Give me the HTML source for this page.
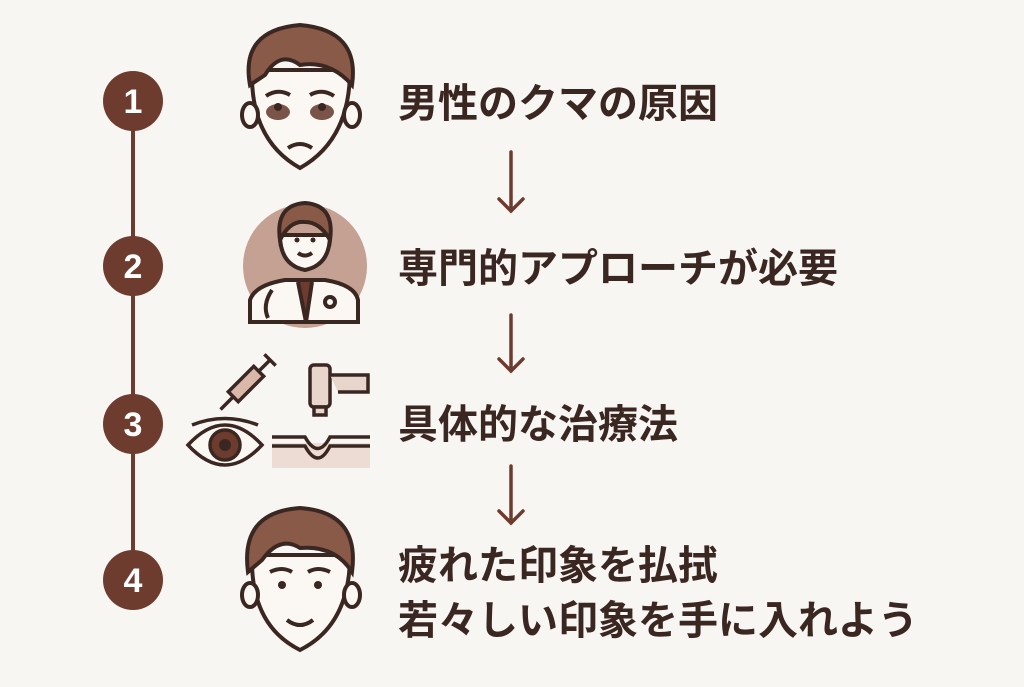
<!DOCTYPE html>
<html><head><meta charset="utf-8"><style>
body{margin:0;width:1024px;height:687px;background:#f8f6f3;position:relative;overflow:hidden;font-family:"Liberation Sans","Noto Sans CJK JP",sans-serif}
.t{position:absolute;left:398px;font-size:40px;font-weight:bold;color:#3b2721;white-space:nowrap;line-height:1}
svg{position:absolute;left:0;top:0}
</style></head><body>
<svg width="1024" height="687" viewBox="0 0 1024 687">
<g fill="none" stroke="#6e3b2f" stroke-width="4">
<line x1="133" y1="100" x2="133" y2="580"/>
</g>
<g fill="#6e3b2f">
<circle cx="133" cy="101" r="30"/><circle cx="133" cy="266" r="30"/><circle cx="133" cy="424" r="30"/><circle cx="133" cy="580" r="30"/>
</g>
<g fill="#fff" font-family="Liberation Sans" font-weight="bold" font-size="34" text-anchor="middle">
<text x="133" y="113">1</text><text x="133" y="278">2</text><text x="133" y="436">3</text><text x="133" y="592">4</text>
</g>
<g stroke="#6e3b2f" stroke-width="3.5" fill="none" stroke-linecap="round">
<path d="M511 152V211M499 199L511 211L523 199"/>
<path d="M511 315V371M499 359L511 371L523 359"/>
<path d="M511 466V523M499 511L511 523L523 511"/>
</g>
<!-- face 1 -->
<g stroke="#3b2721" stroke-width="4" fill="#fbf7f3">
<path d="M252 70 Q250 140 300 168 Q350 140 350 70 Z"/>
<ellipse cx="250" cy="115" rx="8" ry="12"/><ellipse cx="352" cy="115" rx="8" ry="12"/>
<path d="M250 85 Q240 30 300 25 Q360 30 352 85 Q330 60 300 65 Q280 50 265 75 Z" fill="#8a5a48"/>
<ellipse cx="278" cy="112" rx="12" ry="8" fill="#7a5448" stroke="none"/><ellipse cx="322" cy="112" rx="12" ry="8" fill="#7a5448" stroke="none"/>
<circle cx="278" cy="107" r="4" fill="#3b2721" stroke="none"/><circle cx="322" cy="107" r="4" fill="#3b2721" stroke="none"/>
<path d="M266 96 Q278 88 290 95M310 95 Q322 88 334 96" fill="none"/>
<path d="M288 148 Q300 140 312 148" fill="none"/>
</g>
<!-- doctor -->
<circle cx="305" cy="266" r="62" fill="#c4a193"/>
<g stroke="#3b2721" stroke-width="4" fill="#fbf7f3">
<path d="M250 322 L250 300 Q255 285 285 280 L325 280 Q355 285 358 300 L358 322 Z"/>
<path d="M298 282 L306 322 L312 282" fill="#6e3b2f"/>
<path d="M280 235 Q280 265 305 270 Q330 265 330 235 Z"/>
<path d="M280 240 Q275 205 305 203 Q335 205 330 240 Q320 222 305 222 Q290 220 280 240Z" fill="#8a5a48"/>
<circle cx="297" cy="240" r="2.5" fill="#3b2721" stroke="none"/><circle cx="313" cy="240" r="2.5" fill="#3b2721" stroke="none"/>
<path d="M298 253 Q305 258 312 253" fill="none"/>
<path d="M272 290 Q262 305 268 318" fill="none"/><circle cx="330" cy="302" r="5"/>
</g>
<!-- syringe -->
<g stroke="#3b2721" stroke-width="3.5" fill="#fbf7f3" transform="translate(246 384) rotate(-45)">
<line x1="-36" y1="0" x2="-18" y2="0"/>
<rect x="-18" y="-7" width="36" height="14" fill="#d9b8aa"/>
<line x1="18" y1="0" x2="34" y2="0"/><line x1="34" y1="-8" x2="34" y2="8"/>
</g>
<g stroke="#3b2721" stroke-width="3.5" fill="#fbf7f3">
<path d="M188 445 Q225 405 262 445 Q225 485 188 445Z"/>
<circle cx="225" cy="445" r="15" fill="#6e3b2f"/><circle cx="225" cy="445" r="6" fill="#3b2721" stroke="none"/>
<path d="M192 425 Q225 412 258 425" fill="none"/>
</g>
<!-- device + skin -->
<g stroke="#3b2721" stroke-width="3.5" fill="#e8d5cc">
<rect x="272" y="443" width="98" height="25" fill="#ecdcd3" stroke="none"/>
<path d="M272 437 H305 Q318 460 330 437 H370M272 446 H305 Q318 470 330 446 H370" fill="none"/>
<rect x="310" y="365" width="20" height="42" rx="4"/>
<path d="M330 375 H368 V392 H338"/>
<rect x="314" y="407" width="12" height="8"/>
</g>
<!-- face 4 -->
<g stroke="#3b2721" stroke-width="4" fill="#fbf7f3">
<path d="M252 555 Q250 625 300 650 Q350 625 350 555 Z"/>
<ellipse cx="250" cy="595" rx="8" ry="12"/><ellipse cx="352" cy="595" rx="8" ry="12"/>
<path d="M248 572 Q240 512 300 508 Q360 512 352 572 Q335 545 300 548 Q280 535 262 560 Z" fill="#8a5a48"/>
<circle cx="282" cy="585" r="4" fill="#3b2721" stroke="none"/><circle cx="318" cy="585" r="4" fill="#3b2721" stroke="none"/>
<path d="M270 572 Q282 566 292 572M308 572 Q318 566 330 572" fill="none"/>
<path d="M287 620 Q300 630 313 620" fill="none"/>
</g>
</svg>
<div class="t" style="top:84px">男性のクマの原因</div>
<div class="t" style="top:249px">専門的アプローチが必要</div>
<div class="t" style="top:405px">具体的な治療法</div>
<div class="t" style="top:546px">疲れた印象を払拭</div>
<div class="t" style="top:601px">若々しい印象を手に入れよう</div>
</body></html>
